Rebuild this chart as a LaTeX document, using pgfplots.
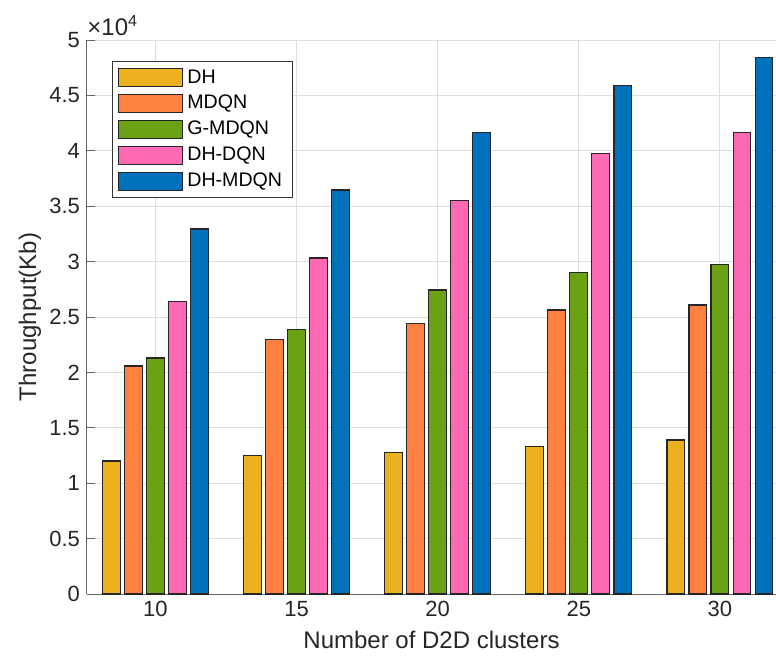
\documentclass[border=0pt]{standalone}
\usepackage{fontspec}
\setmainfont{Liberation Sans}
\usepackage{pgfplots}
\pgfplotsset{compat=1.18}
\definecolor{cDH}{RGB}{237,177,32}
\definecolor{cMDQN}{RGB}{255,128,64}
\definecolor{cG}{RGB}{107,161,20}
\definecolor{cDD}{RGB}{255,105,180}
\definecolor{cDM}{RGB}{0,114,189}
\pgfplotsset{mybar/.style={ybar, bar width=0.125, draw=black!85, line width=0.55pt,
  legend image code/.code={\draw[##1, draw=black!85, line width=0.55pt] (0pt,-4.5pt) rectangle (32pt,4.5pt);}}}
\begin{document}
\begin{tikzpicture}
\begin{axis}[
  scale only axis, width=344.5pt, height=277pt,
  xmin=-0.485, xmax=4.398, ymin=0, ymax=50000,
  axis x line=bottom, axis y line=left,
  axis line style={-, draw=black!60, line width=0.5pt},
  xtick={0,1,2,3,4}, xticklabels={10,15,20,25,30},
  ytick={0,5000,10000,15000,20000,25000,30000,35000,40000,45000,50000},
  yticklabels={0,0.5,1,1.5,2,2.5,3,3.5,4,4.5,5},
  scaled y ticks=false,
  tick align=inside, major tick length=4pt,
  tick style={draw=black!60, line width=0.5pt},
  xmajorgrids, ymajorgrids, grid style={draw=black!13, line width=0.5pt},
  tick label style={font=\fontsize{11}{13}\selectfont, text=black!85},
  xlabel={Number of D2D clusters}, ylabel={Throughput(Kb)},
  label style={font=\fontsize{12}{14}\selectfont, text=black!85},
  xlabel style={at={(axis description cs:0.5,-0.083)}, anchor=center},
  ylabel style={at={(axis description cs:-0.0827,0.5)}, anchor=center},
  legend style={at={(0.036,0.962)}, anchor=north west, draw=black!80, line width=0.5pt,
    font=\fontsize{9.8}{11}\selectfont, cells={anchor=west}, row sep=0.6pt,
    inner xsep=3pt, inner ysep=2pt},
  clip=false,
]
\addplot[mybar, bar shift=-0.312, fill=cDH] coordinates {(0,12000) (1,12540) (2,12790) (3,13330) (4,13900)};
\addlegendentry{DH}
\addplot[mybar, bar shift=-0.156, fill=cMDQN] coordinates {(0,20580) (1,23000) (2,24430) (3,25630) (4,26080)};
\addlegendentry{MDQN}
\addplot[mybar, bar shift=0, fill=cG] coordinates {(0,21300) (1,23890) (2,27440) (3,29000) (4,29720)};
\addlegendentry{G-MDQN}
\addplot[mybar, bar shift=0.156, fill=cDD] coordinates {(0,26380) (1,30330) (2,35530) (3,39770) (4,41670)};
\addlegendentry{DH-DQN}
\addplot[mybar, bar shift=0.312, fill=cDM] coordinates {(0,32940) (1,36460) (2,41630) (3,45910) (4,48440)};
\addlegendentry{DH-MDQN}
\node[anchor=south west, inner sep=0pt, font=\fontsize{12}{14}\selectfont, text=black!85] at (rel axis cs:0,1) [yshift=2pt] {×10\textsuperscript{4}};
\end{axis}
\pgfresetboundingbox
\useasboundingbox (-43.5pt,-32.5pt) rectangle (344.5pt,297pt);
\end{tikzpicture}
\end{document}
